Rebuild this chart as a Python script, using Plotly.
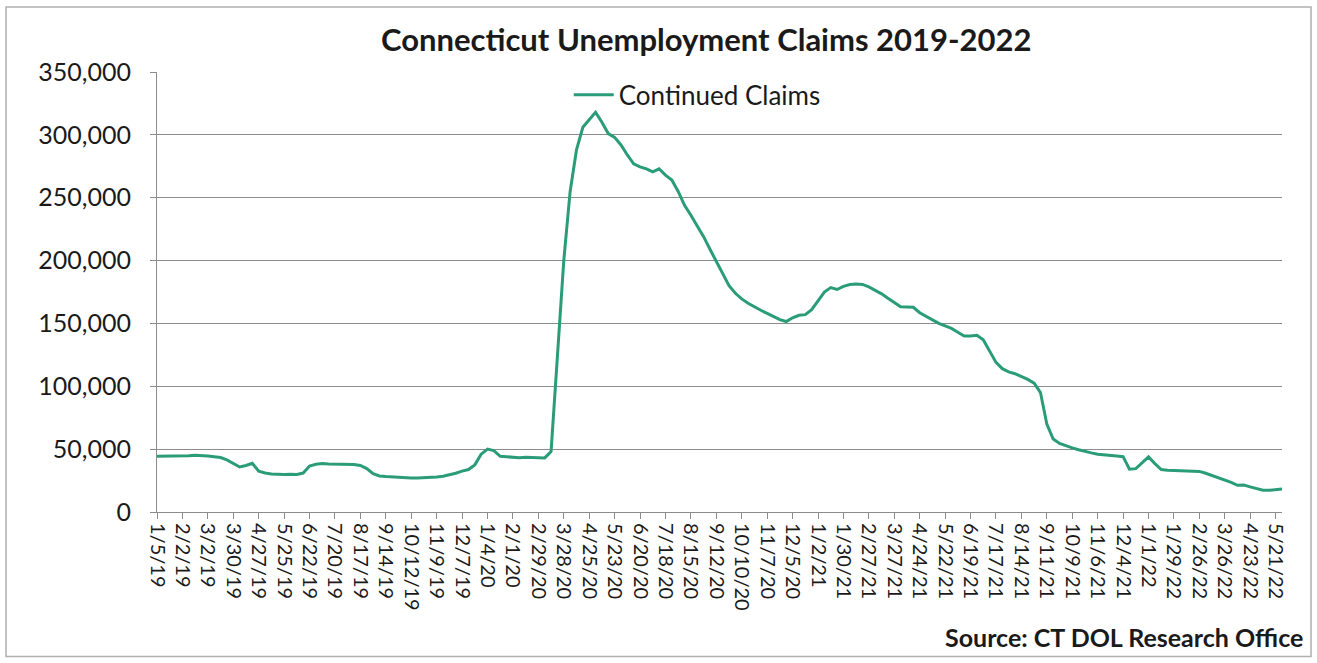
import pandas as pd
import plotly.graph_objects as go

# Weekly continued claims (week ending dates starting 1/5/19)
claims_2019 = [44300, 44300, 44400, 44500, 44600, 44800, 45200, 45000, 44500, 44000,
               43300, 41500, 38500, 35800, 37000, 38800, 32500, 31000, 30300, 30000,
               29800, 30000, 29800, 31000, 36500, 38000, 38500, 38200, 38000, 38000,
               37800, 37800, 37000, 34500, 30500, 28700, 28200, 27800, 27400, 27200,
               27000, 27000, 27100, 27400, 27800, 28500, 29500, 30800, 32500, 33800,
               37500, 46000]
claims_2020 = [50000, 48800, 44300, 44000, 43800, 43200, 43600, 43500, 43300, 43000,
               48000, 125000, 200000, 255000, 288000, 306000, 312000, 318000, 310000, 301000,
               298000, 292000, 284000, 277000, 274500, 273000, 270500, 273000, 268000, 264000,
               255000, 244000, 236000, 228000, 219000, 209000, 199000, 189000, 180000, 174000,
               169500, 166000, 163000, 160500, 158000, 155500, 153000, 151500, 154500, 156500,
               157000, 161000]
claims_2021 = [168000, 175000, 178500, 177000, 179500, 181000, 181300, 181000, 179000, 176500,
               173500, 170000, 166500, 163300, 163000, 162800, 158500, 155500, 152500, 150000,
               148000, 146000, 143000, 140000, 140000, 140500, 137000, 128000, 119000, 114000,
               111500, 110000, 108000, 105500, 102500, 95000, 70000, 58000, 54500, 52500,
               51000, 49500, 48000, 47000, 46000, 45300, 44800, 44500, 44000, 34000,
               34500, 39000]
claims_2022 = [43800, 38500, 33800, 33200, 33000, 32600, 32500, 32400, 32300, 30800,
               29000, 27500, 25800, 23500, 21200, 21500, 20000, 18500, 17300, 17300,
               18000, 18400]

tick_labels = ["1/5/19", "2/2/19", "3/2/19", "3/30/19", "4/27/19", "5/25/19", "6/22/19",
               "7/20/19", "8/17/19", "9/14/19", "10/12/19", "11/9/19", "12/7/19", "1/4/20",
               "2/1/20", "2/29/20", "3/28/20", "4/25/20", "5/23/20", "6/20/20", "7/18/20",
               "8/15/20", "9/12/20", "10/10/20", "11/7/20", "12/5/20", "1/2/21", "1/30/21",
               "2/27/21", "3/27/21", "4/24/21", "5/22/21", "6/19/21", "7/17/21", "8/14/21",
               "9/11/21", "10/9/21", "11/6/21", "12/4/21", "1/1/22", "1/29/22", "2/26/22",
               "3/26/22", "4/23/22", "5/21/22"]

values = claims_2019 + claims_2020 + claims_2021 + claims_2022
dates = pd.date_range("2019-01-05", periods=len(values), freq="7D")
tick_vals = [pd.to_datetime(t, format="%m/%d/%y") for t in tick_labels]

FONT = "Lato, Carlito, Calibri, sans-serif"
GRID = "#8c8c8c"

fig = go.Figure()
fig.add_trace(go.Scatter(
    x=dates, y=values, mode="lines", name="Continued Claims",
    line=dict(color="#2a9d78", width=3),
))

fig.update_layout(
    width=1317, height=663,
    margin=dict(l=157, r=35, t=72, b=151),
    paper_bgcolor="white", plot_bgcolor="white",
    font=dict(family=FONT, color="#1a1a1a"),
    showlegend=True,
    legend=dict(x=0.366, y=0.948, xanchor="left", yanchor="middle",
                font=dict(size=26, family=FONT, color="#1a1a1a"),
                bgcolor="rgba(0,0,0,0)", itemwidth=40),
    xaxis=dict(
        type="date", range=[dates[0], dates[-1]],
        tickvals=tick_vals, ticktext=tick_labels, tickangle=90,
        tickfont=dict(size=20, family=FONT, color="#1a1a1a"),
        showgrid=False, showline=True, linecolor=GRID, linewidth=1,
        ticks="outside", ticklen=6, tickcolor=GRID, zeroline=False,
    ),
    yaxis=dict(
        range=[0, 350000], dtick=50000, tickformat=",",
        tickfont=dict(size=25, family=FONT, color="#1a1a1a"),
        showgrid=True, gridcolor=GRID, gridwidth=1,
        showline=True, linecolor=GRID, linewidth=1,
        ticks="outside", ticklen=6, tickcolor=GRID, zeroline=False,
        ticklabelstandoff=14,
    ),
    annotations=[
        dict(text="<b>Connecticut Unemployment Claims 2019-2022</b>",
             xref="paper", yref="paper", x=0.488, y=1.075,
             xanchor="center", yanchor="middle", showarrow=False,
             font=dict(size=31, family=FONT, color="#1a1a1a")),
        dict(text="<b>Source: CT DOL Research Office</b>",
             xref="paper", yref="paper", x=1.0205, y=-0.285,
             xanchor="right", yanchor="middle", showarrow=False,
             font=dict(size=25, family=FONT, color="#1a1a1a")),
    ],
    shapes=[
        dict(type="rect", xref="paper", yref="paper",
             x0=-0.1342, x1=1.0258, y0=-0.3285, y1=1.1476,
             line=dict(color="#b0b0b0", width=1.5), fillcolor="rgba(0,0,0,0)", layer="below"),
    ],
)

fig.write_html("out.html", config={"displayModeBar": False},
               post_script="document.body.style.margin='0px';")
